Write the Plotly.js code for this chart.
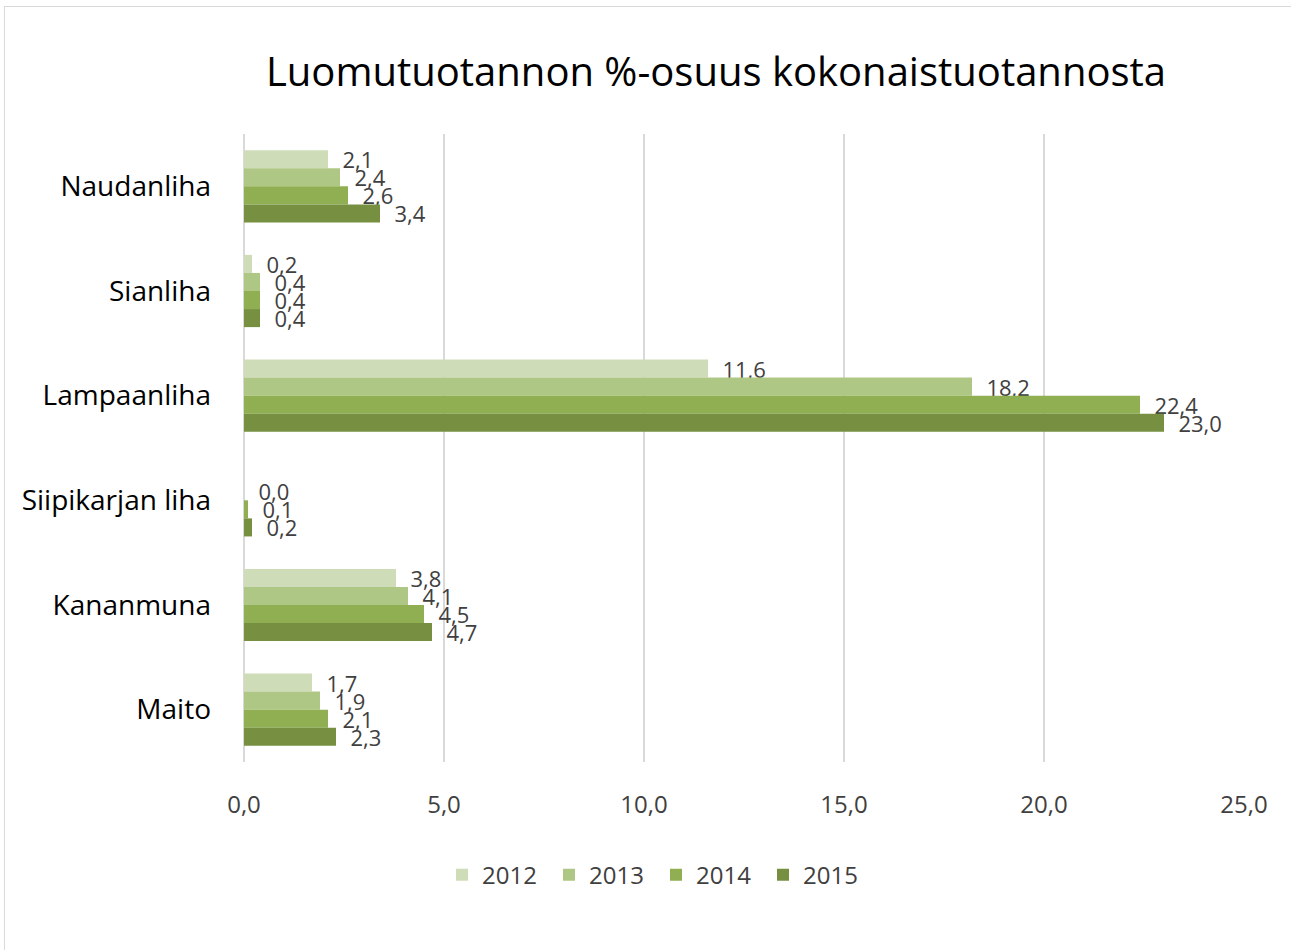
<!DOCTYPE html>
<html>
<head>
<meta charset="utf-8">
<script src="https://cdn.plot.ly/plotly-3.0.1.min.js"></script>
<style>
  body { margin: 0; background: #fff; }
  #frame { position: absolute; left: 4px; top: 6px; width: 1300px; height: 960px; border: 1px solid #d9d9d9; box-sizing: border-box; }
  #chart { position: absolute; left: 0; top: 0; width: 1291px; height: 950px; }
</style>
</head>
<body>
<div id="frame"></div>
<div id="chart"></div>
<script>
const categories = ["Naudanliha", "Sianliha", "Lampaanliha", "Siipikarjan liha", "Kananmuna", "Maito"];
const years = ["2012", "2013", "2014", "2015"];
const v2012 = [2.1, 0.2, 11.6, null, 3.8, 1.7];
const v2013 = [2.4, 0.4, 18.2, 0.0, 4.1, 1.9];
const v2014 = [2.6, 0.4, 22.4, 0.1, 4.5, 2.1];
const v2015 = [3.4, 0.4, 23.0, 0.2, 4.7, 2.3];
const xTicks = [0, 5, 10, 15, 20, 25];
const colors = ["#cfdcb8", "#afc785", "#8faf52", "#768f41"];

const series = [v2012, v2013, v2014, v2015];
const font = "'Open Sans', 'DejaVu Sans', sans-serif";

const traces = series.map((vals, i) => ({
  type: "bar",
  orientation: "h",
  name: years[i],
  y: categories,
  x: vals,
  marker: { color: colors[i], line: { width: 0 } },
  texttemplate: "\u00a0\u00a0%{x:.1f}",
  textposition: "outside",
  constraintext: "none",
  cliponaxis: false,
  textfont: { family: font, size: 22, color: "#404040" },
  hoverinfo: "x+name"
}));

const layout = {
  width: 1291,
  height: 950,
  paper_bgcolor: "rgba(0,0,0,0)",
  plot_bgcolor: "#fff",
  separators: ", ",
  barmode: "group",
  bargap: 0.31,
  bargroupgap: 0,
  margin: { l: 244, r: 47, t: 134, b: 188 },
  title: {
    text: "Luomutuotannon %-osuus kokonaistuotannosta",
    font: { family: font, size: 40, color: "#000" },
    x: 0.472, xanchor: "center", xref: "paper",
    y: 0.924, yanchor: "middle"
  },
  xaxis: {
    range: [0, 25],
    tickvals: xTicks,
    tickformat: ".1f",
    showgrid: true,
    gridcolor: "#d9d9d9",
    gridwidth: 1.5,
    zeroline: true,
    zerolinecolor: "#d9d9d9",
    zerolinewidth: 1.5,
    showline: false,
    ticks: "",
    ticklabelstandoff: 26,
    tickfont: { family: font, size: 24, color: "#404040" },
    fixedrange: true
  },
  yaxis: {
    autorange: "reversed",
    showgrid: false,
    zeroline: false,
    showline: false,
    ticks: "",
    ticklabelstandoff: 32,
    tickfont: { family: font, size: 28, color: "#000" },
    fixedrange: true
  },
  legend: {
    orientation: "h",
    x: 0.412, xanchor: "center",
    y: -0.18, yanchor: "middle",
    font: { family: font, size: 24, color: "#404040" },
    itemwidth: 30,
    entrywidth: 62,
    entrywidthmode: "pixels",
    traceorder: "normal"
  },
  showlegend: true
};

Plotly.newPlot("chart", traces, layout, { displayModeBar: false, staticPlot: false });
</script>
</body>
</html>
